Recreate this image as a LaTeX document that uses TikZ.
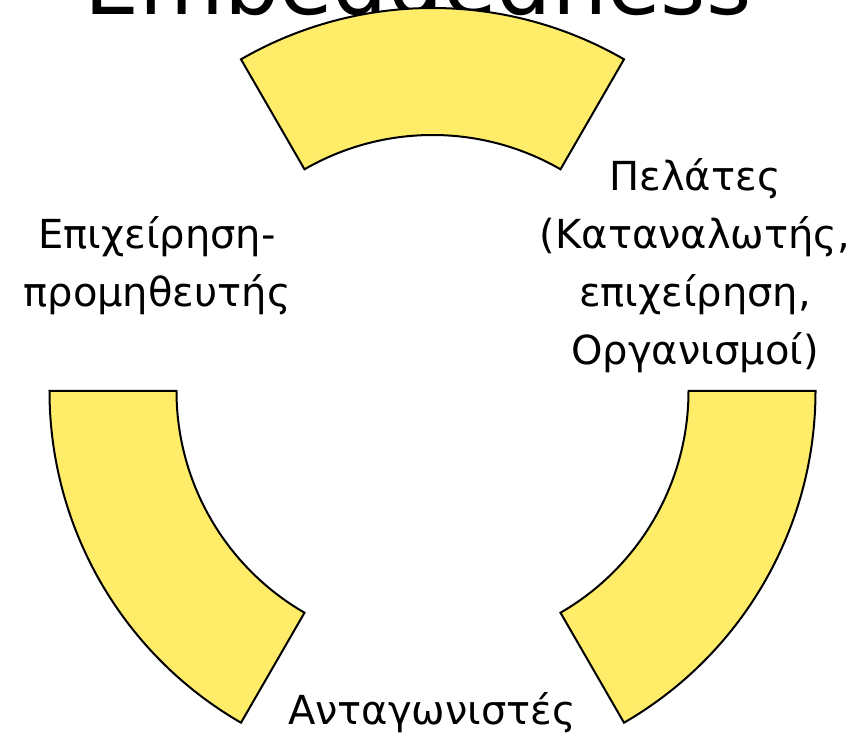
\documentclass[tikz,border=0pt]{standalone}
\usepackage{fontspec}
\setmainfont{DejaVu Sans}
\definecolor{segyellow}{RGB}{255,237,105}
\tikzset{
  seg/.style={fill=segyellow, draw=black, line width=2pt, line join=miter},
  lbl/.style={align=center, inner sep=0pt, font=\fontsize{40}{58}\selectfont},
  ttl/.style={inner sep=0pt, anchor=base, font=\fontsize{87}{100}\selectfont}
}
\begin{document}
\begin{tikzpicture}[x=1pt,y=1pt]
\useasboundingbox (0,0) rectangle (865,737);
\clip (0,0) rectangle (865,737);
\node[ttl] (title) at (418,722) {Embeddedness};
\begin{scope}[shift={(432.5,346)}]
  \coordinate (c) at (0,0);
  \draw[seg] (60:383) arc[start angle=60, end angle=120, radius=383]
     -- (120:256) arc[start angle=120, end angle=60, radius=256] -- cycle;
  \draw[seg] (180:383) arc[start angle=180, end angle=240, radius=383]
     -- (240:256) arc[start angle=240, end angle=180, radius=256] -- cycle;
  \draw[seg] (300:383) arc[start angle=300, end angle=360, radius=383]
     -- (360:256) arc[start angle=360, end angle=300, radius=256] -- cycle;
\end{scope}
\node[lbl] (supplier) at (157,471) {Επιχείρηση-\\προμηθευτής};
\node[lbl] (clients) at (695,471.5) {Πελάτες\\(Καταναλωτής,\\επιχείρηση,\\Οργανισμοί)};
\node[lbl] (competitors) at (432,24) {Ανταγωνιστές};
\end{tikzpicture}
\end{document}
